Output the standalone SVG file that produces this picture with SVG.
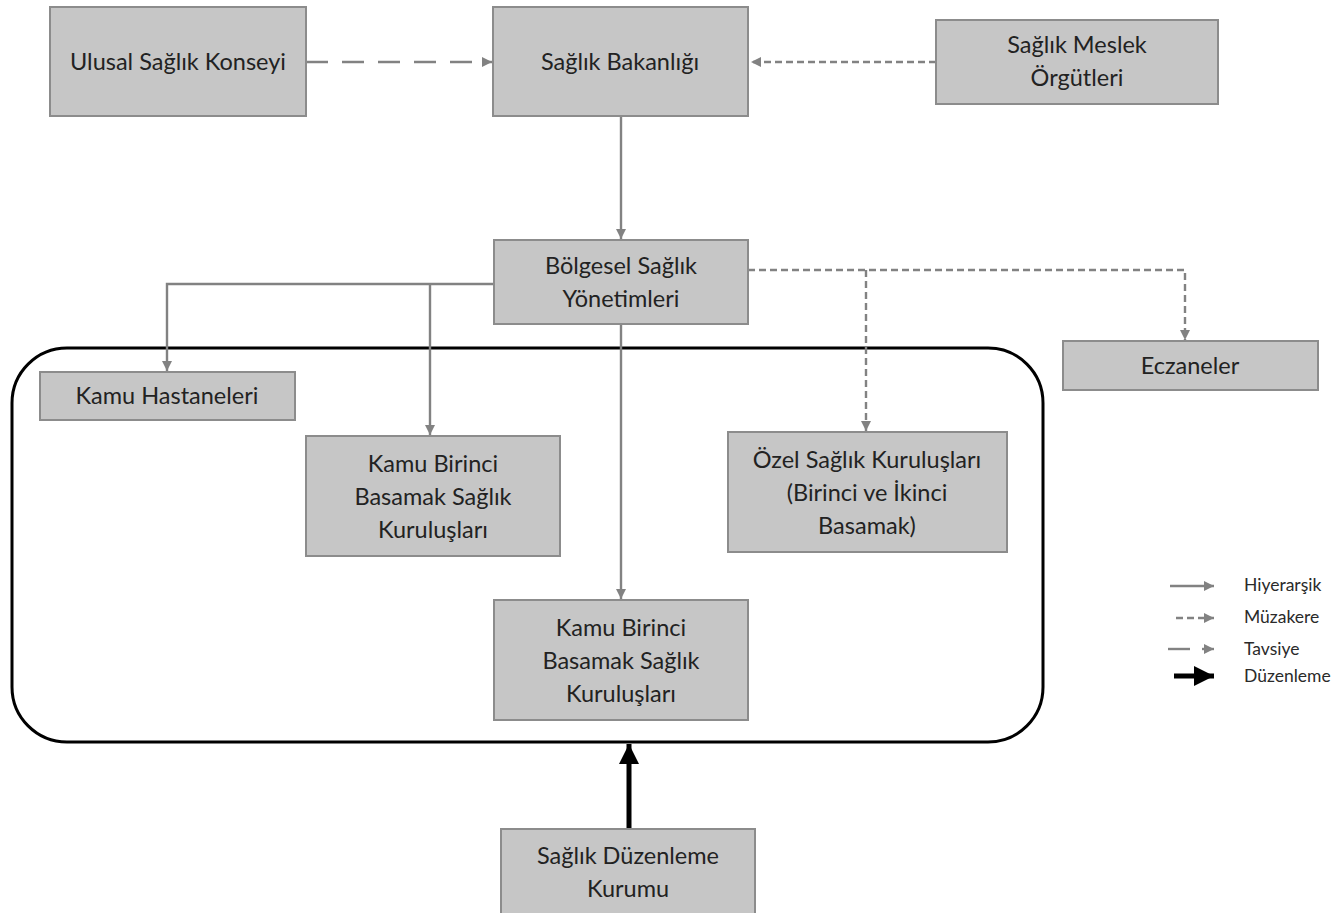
<svg xmlns="http://www.w3.org/2000/svg" width="1335" height="913" viewBox="0 0 1335 913">
<style>
.box{fill:#c6c6c6;stroke:#8c8c8c;stroke-width:2}
.t{font-family:Lato,"Open Sans",sans-serif;font-size:23.5px;fill:#222;text-anchor:middle}
.lt{font-family:Lato,"Open Sans",sans-serif;font-size:17.5px;fill:#2a2a2a}
.c{fill:none;stroke:#828282;stroke-width:2.4}
.hier{marker-end:url(#ag)}
.muz{stroke-dasharray:7 4;marker-end:url(#ag)}
.tav{stroke-dasharray:22 14;marker-end:url(#ag)}
.duz{stroke:#000;stroke-width:5;marker-end:url(#ab)}
</style>
<defs>
<marker id="ag" viewBox="0 0 10 10" refX="10" refY="5" markerWidth="4.2" markerHeight="4.2" orient="auto" markerUnits="strokeWidth"><path d="M0,0L10,5L0,10z" fill="#828282"/></marker>
<marker id="ab" viewBox="0 0 10 10" refX="10" refY="5" markerWidth="4" markerHeight="4" orient="auto" markerUnits="strokeWidth"><path d="M0,0L10,5L0,10z" fill="#000"/></marker>
</defs>
<rect x="0" y="0" width="1335" height="913" fill="#fff"/>
<g id="container"><rect x="12" y="348" width="1031" height="394" rx="55" ry="55" fill="none" stroke="#000" stroke-width="3"/></g>
<g id="connectors">
<path class="c tav" d="M306,62H492"/>
<path class="c muz" d="M936,62H751"/>
<path class="c hier" d="M621,116V239"/>
<path class="c hier" d="M494,284H167V371"/>
<path class="c hier" d="M430,284V435"/>
<path class="c hier" d="M621,324V599"/>
<path class="c muz" d="M748,270H1185V340"/>
<path class="c muz" d="M866,270V431"/>
<path class="c duz" d="M629,829V744"/>
</g>
<g id="n-ulusal"><rect class="box" x="50" y="7" width="256" height="109"/><text class="t" x="178" y="70">Ulusal Sağlık Konseyi</text></g>
<g id="n-bakanlik"><rect class="box" x="493" y="7" width="255" height="109"/><text class="t" x="620" y="70">Sağlık Bakanlığı</text></g>
<g id="n-meslek"><rect class="box" x="936" y="20" width="282" height="84"/><text class="t" x="1077" y="53">Sağlık Meslek</text><text class="t" x="1077" y="86">Örgütleri</text></g>
<g id="n-bolgesel"><rect class="box" x="494" y="240" width="254" height="84"/><text class="t" x="621" y="274">Bölgesel Sağlık</text><text class="t" x="621" y="307">Yönetimleri</text></g>
<g id="n-eczaneler"><rect class="box" x="1063" y="341" width="255" height="49"/><text class="t" x="1190" y="374">Eczaneler</text></g>
<g id="n-hastaneler"><rect class="box" x="40" y="372" width="255" height="48"/><text class="t" x="167" y="404">Kamu Hastaneleri</text></g>
<g id="n-kbbsk1"><rect class="box" x="306" y="436" width="254" height="120"/><text class="t" x="433" y="472">Kamu Birinci</text><text class="t" x="433" y="505">Basamak Sağlık</text><text class="t" x="433" y="538">Kuruluşları</text></g>
<g id="n-ozel"><rect class="box" x="728" y="432" width="279" height="120"/><text class="t" x="867" y="468">Özel Sağlık Kuruluşları</text><text class="t" x="867" y="501">(Birinci ve İkinci</text><text class="t" x="867" y="534">Basamak)</text></g>
<g id="n-kbbsk2"><rect class="box" x="494" y="600" width="254" height="120"/><text class="t" x="621" y="636">Kamu Birinci</text><text class="t" x="621" y="669">Basamak Sağlık</text><text class="t" x="621" y="702">Kuruluşları</text></g>
<g id="n-duzenleme"><rect class="box" x="501" y="829" width="254" height="90"/><text class="t" x="628" y="864">Sağlık Düzenleme</text><text class="t" x="628" y="897">Kurumu</text></g>
<g id="legend">
<path class="c hier" d="M1170,586H1214"/>
<path class="c muz" d="M1176,618H1214"/>
<path class="c" d="M1168,649H1190"/>
<path class="c hier" d="M1202,649H1214"/>
<path class="c duz" d="M1174,676H1214"/>
<text class="lt" x="1244" y="591">Hiyerarşik</text>
<text class="lt" x="1244" y="623">Müzakere</text>
<text class="lt" x="1244" y="655">Tavsiye</text>
<text class="lt" x="1244" y="682">Düzenleme</text>
</g>
</svg>
